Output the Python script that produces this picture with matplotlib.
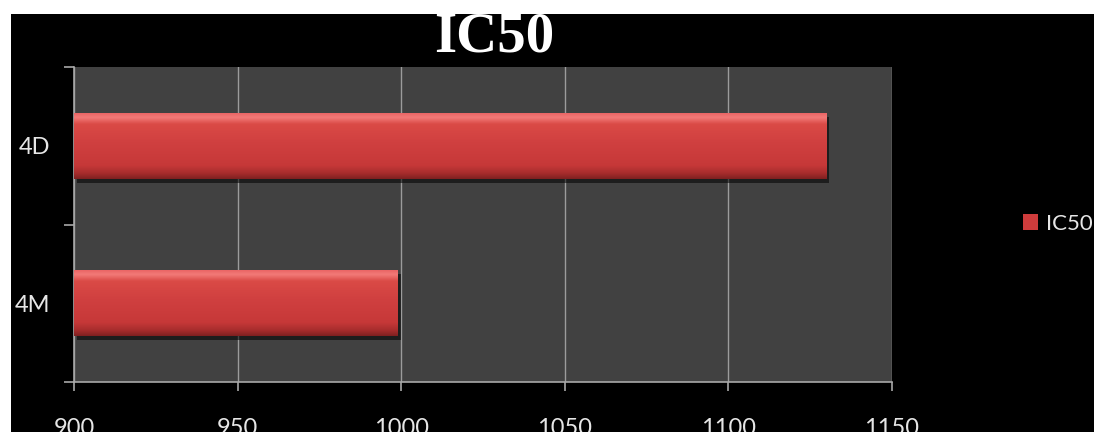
import numpy as np
from matplotlib import pyplot as plt
from matplotlib.patches import Rectangle
import matplotlib.patheffects as pe
from matplotlib.colors import LinearSegmentedColormap

# IC50 values per sample
samples = ['4M', '4D']
ic50 = [999, 1130]
series_name = 'IC50'
x_ticks = [900, 950, 1000, 1050, 1100, 1150]

W, H = 1094, 432
fig = plt.figure(figsize=(W / 100, H / 100), dpi=100, facecolor='black')

# white strips along the top and left edge of the frame
fig.patches.append(Rectangle((0, 1 - 14 / H), 1, 14 / H, transform=fig.transFigure,
                             facecolor='white', edgecolor='none', zorder=0))
fig.patches.append(Rectangle((0, 0), 11 / W, 1, transform=fig.transFigure,
                             facecolor='white', edgecolor='none', zorder=0))

ax = fig.add_axes([74 / W, (H - 382) / H, (892 - 74) / W, (382 - 67) / H])
ax.set_facecolor('#414141')

base = x_ticks[0]
y = np.arange(len(samples))
bar_h = 0.42
bars = ax.barh(y, [v - base for v in ic50], height=bar_h, left=base, color='#cf3c3c',
               edgecolor='none', zorder=3, label=series_name)

# glossy bevel: vertical gradient clipped to each bar
bevel = LinearSegmentedColormap.from_list('bevel', [
    (0.00, '#7e2020'), (0.08, '#a52c2c'), (0.20, '#c63838'), (0.55, '#d04040'),
    (0.82, '#da4a46'), (0.92, '#f27a78'), (1.00, '#e86060')])
grad = np.linspace(0, 1, 256).reshape(-1, 1)
for b in bars:
    b.set_path_effects([pe.SimplePatchShadow(offset=(2, -3), shadow_rgbFace='black', alpha=0.55),
                        pe.Normal()])
    x0, y0 = b.get_x(), b.get_y()
    im = ax.imshow(grad, cmap=bevel, aspect='auto', origin='lower', zorder=4,
                   extent=(x0, x0 + b.get_width(), y0, y0 + b.get_height()),
                   interpolation='bilinear')
    im.set_clip_path(b)

ax.set_xlim(x_ticks[0], x_ticks[-1])
ax.set_ylim(-0.5, len(samples) - 0.5)

ax.set_xticks(x_ticks)
ax.set_xticklabels([str(t) for t in x_ticks])
ax.set_yticks(y)
ax.set_yticklabels(samples)
ax.set_yticks(np.arange(len(samples) + 1) - 0.5, minor=True)

ax.grid(axis='x', color='#9c9c9c', linewidth=1.0, zorder=1)
ax.set_axisbelow(True)

for s in ['top', 'right']:
    ax.spines[s].set_visible(False)
for s in ['left', 'bottom']:
    ax.spines[s].set_color('#a8a8a8')
    ax.spines[s].set_linewidth(1.2)

font = 'Lato'
ax.tick_params(axis='x', direction='out', length=6.5, width=1.2, color='#a8a8a8',
               labelcolor='#e6e6e6', labelsize=17, pad=19.5)
ax.tick_params(axis='y', which='major', length=0, labelcolor='#e6e6e6',
               labelsize=17, pad=17)
ax.tick_params(axis='y', which='minor', direction='out', length=7, width=1.2,
               color='#a8a8a8')
for lab in ax.get_xticklabels() + ax.get_yticklabels():
    lab.set_fontfamily(font)

fig.text(494 / W, 1 - 38 / H, 'IC50', ha='center', va='center', color='white',
         fontsize=41, fontweight='bold', family='Liberation Serif', zorder=5)

leg = fig.legend(handles=[bars], labels=[series_name], loc='center left',
                 bbox_to_anchor=(1014 / W, 1 - 224 / H), frameon=False,
                 handlelength=0.7, handleheight=0.7, handletextpad=0.35,
                 borderaxespad=0, prop={'family': font, 'size': 16})
for t in leg.get_texts():
    t.set_color('#e6e6e6')

fig.savefig('out.png', dpi=100, facecolor='black')
